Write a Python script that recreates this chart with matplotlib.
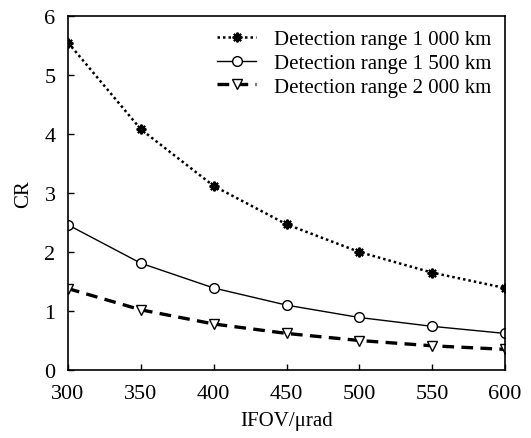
import matplotlib
matplotlib.use("Agg")
import matplotlib.pyplot as plt

ifov = [300, 350, 400, 450, 500, 550, 600]
cr_1000 = [5.55, 4.08, 3.12, 2.47, 2.00, 1.65, 1.39]
cr_1500 = [2.46, 1.81, 1.39, 1.10, 0.89, 0.74, 0.62]
cr_2000 = [1.38, 1.02, 0.78, 0.62, 0.50, 0.41, 0.35]
labels = ["Detection range 1 000 km", "Detection range 1 500 km", "Detection range 2 000 km"]

plt.rcParams['font.family'] = ['Liberation Serif', 'DejaVu Serif']

fig = plt.figure(figsize=(5.31, 4.39), dpi=100)
ax = fig.add_axes([68/531, 1-371/439, (505-68)/531, (371-17)/439])

ax.plot(ifov, cr_1000, color='black', linestyle=(0, (1, 1.2)), linewidth=1.8, marker=(8, 2, 0),
        markersize=7, markeredgewidth=1.5, label=labels[0])
ax.plot(ifov, cr_1500, color='black', linestyle='-', linewidth=1.0, marker='o', markersize=7,
        markerfacecolor='white', markeredgewidth=1.0, label=labels[1])
ax.plot(ifov, cr_2000, color='black', linestyle=(0, (3.5, 2.2)), linewidth=2.4, marker='v', markersize=7,
        markerfacecolor='white', markeredgewidth=1.0, label=labels[2])

ax.set_xlim(300, 600)
ax.set_ylim(0, 6)
ax.set_xticks(ifov)
ax.set_yticks(range(0, 7))
ax.tick_params(direction='in', length=4, width=1, labelsize=16)
ax.tick_params(axis='x', pad=10)
ax.tick_params(axis='y', pad=9)
for s in ax.spines.values():
    s.set_linewidth(1.2)
ax.set_xlabel("IFOV/μrad", fontsize=15, labelpad=6)
ax.set_ylabel("CR", fontsize=15, labelpad=8)
ax.legend(loc='upper right', frameon=False, fontsize=15, handlelength=1.9,
          borderaxespad=0.25, labelspacing=0.2, handletextpad=0.85)

fig.savefig("out.png", dpi=100)
